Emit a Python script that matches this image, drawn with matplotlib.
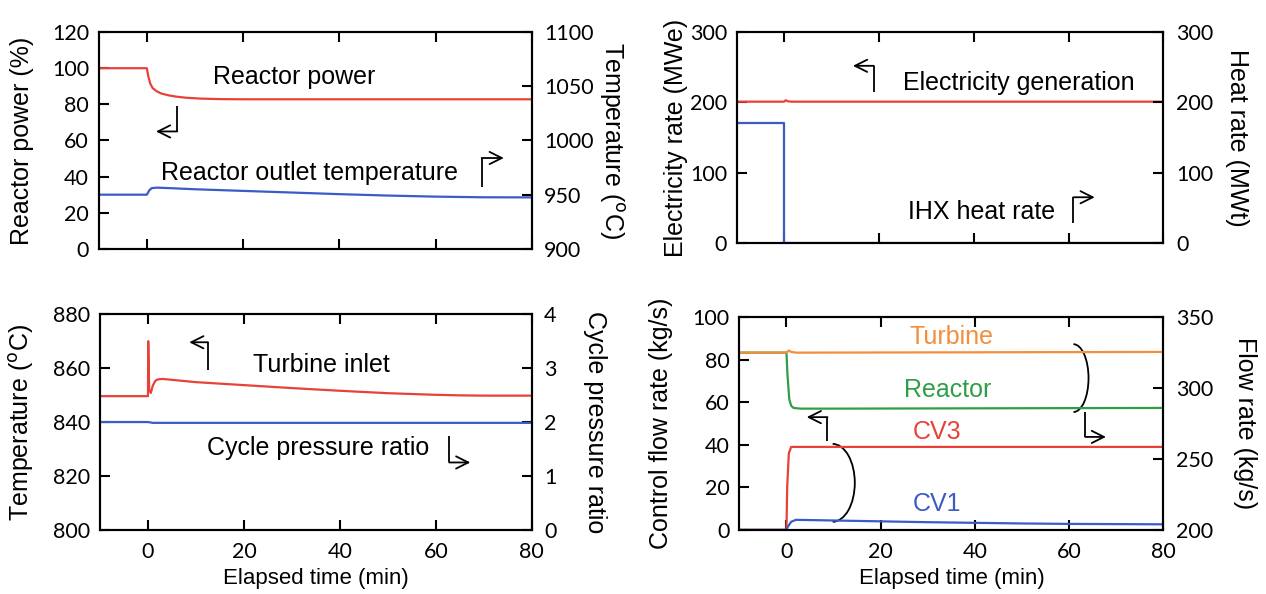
import matplotlib
matplotlib.use("Agg")
import matplotlib.pyplot as plt
from matplotlib.patches import Arc
import numpy as np

# colours
RED = '#e8413a'
BLUE = '#3b5bc6'
ORANGE = '#f28e3c'
GREEN = '#2f9e48'

## panel 1: reactor power (%) / reactor outlet temperature (C)
t_pow = [-10, 0, 0.3, 0.7, 1.2, 2, 3, 4.5, 6, 8, 11, 15, 20, 40, 80]
pow_pct = [100, 100, 95.5, 91.5, 89, 87.3, 86, 85, 84.3, 83.7, 83.2, 82.9, 82.8, 82.8, 82.8]
t_tout = [-10, 0, 0.5, 1, 2, 5, 10, 20, 30, 40, 50, 60, 70, 80]
tout = [950, 950, 954, 956, 956.5, 956, 955, 953.5, 952, 950.5, 949.2, 948.2, 947.6, 947.5]

## panel 2: electricity (MWe) / IHX heat rate (MWt)
t_elec = [-10, 0, 0.3, 0.8, 1.5, 80]
elec = [201, 201, 203, 201.5, 201, 201]
t_ihx = [-10, 0, 0, 80]
ihx = [171, 171, 0, 0]

## panel 3: turbine inlet temperature (C) / cycle pressure ratio
t_tin = [-10, 0, 0.05, 0.25, 0.6, 1, 1.5, 2, 3, 10, 20, 30, 40, 50, 60, 65, 70, 80]
tin = [849.6, 849.6, 870, 852, 850.8, 853.5, 855.2, 855.8, 856, 854.8, 853.7, 852.6, 851.6, 850.7, 850.1, 849.9, 849.8, 849.8]
t_pr = [-10, 0, 1, 80]
pr = [2.0, 2.0, 1.985, 1.985]

## panel 4: control valves (kg/s, left) / turbine & reactor flow (kg/s, right)
t_cv3 = [-10, 0, 0.15, 0.5, 1, 5, 80]
cv3 = [0, 0, 20, 36, 39, 39, 39]
t_cv1 = [-10, 0, 0.3, 1, 2, 5, 10, 20, 30, 40, 50, 60, 70, 80]
cv1 = [0, 0, 1.5, 3.8, 4.7, 4.6, 4.4, 4.0, 3.6, 3.3, 3.0, 2.8, 2.7, 2.6]
t_turb = [-10, 0, 0.5, 1, 2, 3, 80]
turb = [325, 325, 326.5, 325.5, 325, 325, 325.5]
t_reac = [-10, 0, 0.2, 0.6, 1, 1.5, 3, 10, 80]
reac = [325, 325, 310, 292, 287.5, 286, 285.5, 285.5, 286]

TICKFONT = 'Lato'
LABFONT = 'Liberation Sans'
LABSIZE = 18


def style(ax, ax2, xlabel=True):
    for a in (ax, ax2):
        a.tick_params(direction='in', length=7, width=1.5, labelsize=15.5,
                      labelfontfamily=TICKFONT)
        for s in a.spines.values():
            s.set_linewidth(1.5)
    ax.tick_params(axis='y', pad=7)
    ax2.tick_params(axis='y', pad=9)
    ax.tick_params(axis='x', top=True, bottom=True, pad=9)
    ax.set_xlim(-10, 80)
    ax.set_xticks([0, 20, 40, 60, 80])
    if xlabel:
        ax.set_xlabel('Elapsed time (min)', fontsize=16, family=LABFONT, labelpad=4)
    else:
        ax.tick_params(axis='x', labelbottom=False)


def ylabels(ax, ax2, left, right, xl, xr):
    ax.set_ylabel(left, fontsize=LABSIZE, family=LABFONT, va='center')
    ax.yaxis.set_label_coords(xl, 0.5)
    ax2.set_ylabel(right, fontsize=LABSIZE, family=LABFONT, rotation=270, va='center')
    ax2.yaxis.set_label_coords(xr, 0.5)


def bent_arrow(ax, pts):
    xs = [p[0] for p in pts]
    ys = [p[1] for p in pts]
    ax.plot(xs[:-1], ys[:-1], color='k', lw=1.3, solid_capstyle='butt')
    ax.annotate('', xy=pts[-1], xytext=pts[-2],
                arrowprops=dict(arrowstyle='->', color='k', lw=1.3,
                                mutation_scale=22, shrinkA=0, shrinkB=0))


def bracket(ax, x0, y0, y1, xb):
    ax.add_patch(Arc(((x0), (y0 + y1) / 2), 2 * (xb - x0), y1 - y0,
                     theta1=-90, theta2=90, color='k', lw=1.3))


def txt(ax, x, y, s, c='k'):
    ax.text(x, y, s, ha='center', va='center', fontsize=18, color=c, family=LABFONT)


fig = plt.figure(figsize=(12.66, 5.94), dpi=100)

# panel 1
ax1 = fig.add_axes([0.078, 0.581, 0.342, 0.365])
ax1b = ax1.twinx()
ax1.plot(t_pow, pow_pct, color=RED, lw=1.6)
ax1b.plot(t_tout, tout, color=BLUE, lw=1.6)
ax1.set_ylim(0, 120)
ax1.set_yticks(range(0, 121, 20))
ax1b.set_ylim(900, 1100)
ax1b.set_yticks(range(900, 1101, 50))
ylabels(ax1, ax1b, 'Reactor power (%)', 'Temperature ($^{\\mathrm{o}}$C)', -0.177, 1.185)
style(ax1, ax1b, xlabel=False)
txt(ax1, 30.6, 95, 'Reactor power')
txt(ax1, 33.8, 42, 'Reactor outlet temperature')
bent_arrow(ax1, [(6.3, 79), (6.3, 65), (1.9, 65)])
bent_arrow(ax1, [(69.6, 34.3), (69.6, 50.3), (74.2, 50.3)])

# panel 2
ax2 = fig.add_axes([0.582, 0.591, 0.337, 0.355])
ax2b = ax2.twinx()
ax2.plot(t_elec, elec, color=RED, lw=1.6)
ax2b.plot(t_ihx, ihx, color=BLUE, lw=1.6)
ax2.set_ylim(0, 300)
ax2.set_yticks([0, 100, 200, 300])
ax2b.set_ylim(0, 300)
ax2b.set_yticks([0, 100, 200, 300])
ylabels(ax2, ax2b, 'Electricity rate (MWe)', 'Heat rate (MWt)', -0.143, 1.172)
style(ax2, ax2b, xlabel=False)
txt(ax2, 49.4, 228, 'Electricity generation')
txt(ax2, 41.7, 44, 'IHX heat rate')
bent_arrow(ax2, [(18.9, 215), (18.9, 252), (14.5, 252)])
bent_arrow(ax2, [(61, 28), (61, 65), (65.5, 65)])

# panel 3
ax3 = fig.add_axes([0.079, 0.108, 0.341, 0.363])
ax3b = ax3.twinx()
ax3.plot(t_tin, tin, color=RED, lw=1.6)
ax3b.plot(t_pr, pr, color=BLUE, lw=1.6)
ax3.set_ylim(800, 880)
ax3.set_yticks(range(800, 881, 20))
ax3b.set_ylim(0, 4)
ax3b.set_yticks(range(0, 5))
ylabels(ax3, ax3b, 'Temperature ($^{\\mathrm{o}}$C)', 'Cycle pressure ratio', -0.181, 1.147)
style(ax3, ax3b)
txt(ax3, 36.2, 861, 'Turbine inlet')
txt(ax3, 35.4, 830.4, 'Cycle pressure ratio')
bent_arrow(ax3, [(12.5, 859.3), (12.5, 869.6), (8.6, 869.6)])
bent_arrow(ax3, [(62.8, 835), (62.8, 825), (67.2, 825)])

# panel 4
ax4 = fig.add_axes([0.584, 0.108, 0.335, 0.358])
ax4b = ax4.twinx()
ax4.plot(t_cv3, cv3, color=RED, lw=1.6)
ax4.plot(t_cv1, cv1, color=BLUE, lw=1.6)
ax4b.plot(t_reac, reac, color=GREEN, lw=1.6)
ax4b.plot(t_turb, turb, color=ORANGE, lw=1.6)
ax4.set_ylim(0, 100)
ax4.set_yticks(range(0, 101, 20))
ax4b.set_ylim(200, 350)
ax4b.set_yticks(range(200, 351, 50))
ylabels(ax4, ax4b, 'Control flow rate (kg/s)', 'Flow rate (kg/s)', -0.185, 1.192)
style(ax4, ax4b)
txt(ax4, 35.1, 90.6, 'Turbine', ORANGE)
txt(ax4, 34.3, 65.7, 'Reactor', GREEN)
txt(ax4, 31.9, 46, 'CV3', RED)
txt(ax4, 31.9, 12.2, 'CV1', BLUE)
bracket(ax4, 60.9, 55.4, 87.3, 64.1)
bracket(ax4, 9.8, 3.8, 40.4, 14.5)
bent_arrow(ax4, [(63.4, 55.4), (63.4, 43.7), (67.8, 43.7)])
bent_arrow(ax4, [(8.7, 41.8), (8.7, 53), (4.3, 53)])

fig.savefig('out.png', dpi=100)
